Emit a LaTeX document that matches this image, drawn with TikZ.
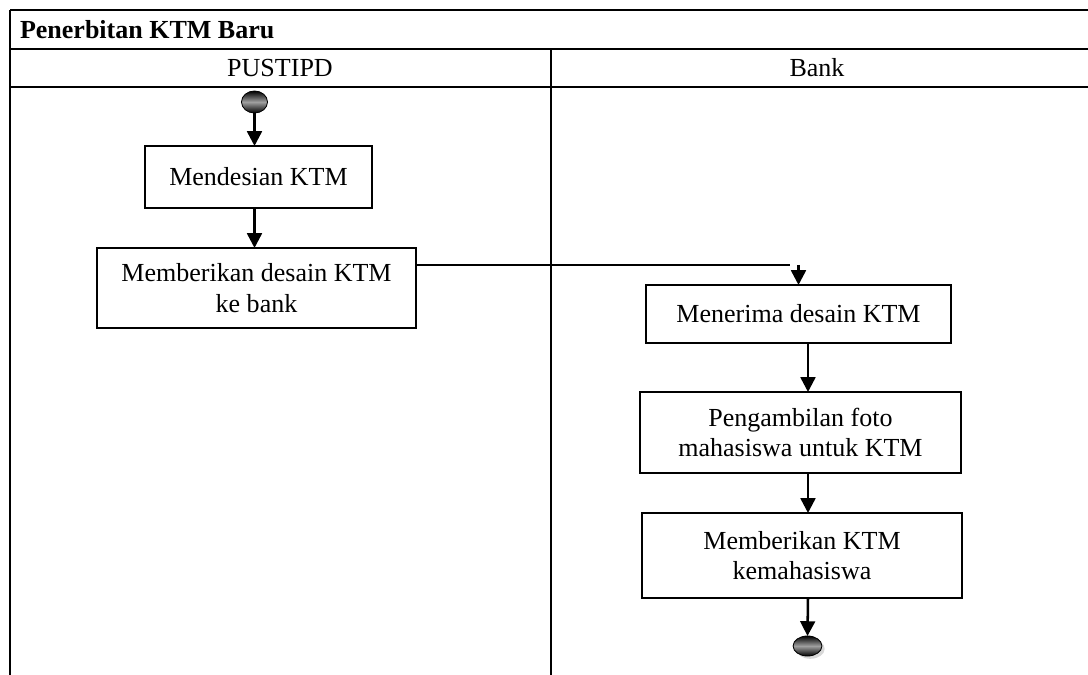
\documentclass[tikz,border=0pt]{standalone}
\usepackage{fontspec}
\setmainfont{Liberation Serif}
\usepackage{tikz}
\usetikzlibrary{arrows.meta,shapes.geometric,shadows}

\begin{document}
\begin{tikzpicture}[x=0.025cm, y=-0.025cm,
    every node/.style={font=\fontsize{18.5}{21.5}\selectfont, inner sep=0pt, outer sep=0pt},
    tabel/.style={line width=2pt},
    kotak/.style={draw, line width=1pt, align=center},
    panah/.style={line width=1.8pt, -{Triangle[length=10.5pt,width=10.5pt]}},
    titik/.style={ellipse, draw, line width=0.6pt, top color=black, bottom color=black, middle color=gray!75}]
  \useasboundingbox (0,0) rectangle (1088,675);
  % Swimlane table
  \draw[tabel] (10,10) -- (1100,10);
  \draw[tabel] (10,49) -- (1100,49);
  \draw[tabel] (10,87) -- (1100,87);
  \draw[tabel] (10,10) -- (10,690);
  \draw[line width=1.5pt] (551,49) -- (551,690);
  \node[anchor=west, font=\fontsize{18.5}{21.5}\selectfont\bfseries] (judul) at (20,30) {Penerbitan KTM Baru};
  \node (pustipd) at (280,68) {PUSTIPD};
  \node (bank) at (817,68) {Bank};
  % PUSTIPD lane
  \node[titik, minimum width=0.65cm, minimum height=0.55cm] (mulai) at (254.5,102) {};
  \node[kotak, minimum width=5.675cm, minimum height=1.55cm] (desain) at (258.5,177) {Mendesian KTM};
  \node[kotak, minimum width=7.975cm, minimum height=2cm] (kirim) at (256.5,288) {Memberikan desain KTM\\ke bank};
  \draw[panah] (mulai.south) -- (mulai.south |- desain.north);
  \draw[panah] (desain.south -| mulai) -- (kirim.north -| mulai);
  % Bank lane
  \coordinate (belok) at (790,265);
  \coordinate (kanan) at (808,0);
  \node[kotak, minimum width=7.625cm, minimum height=1.45cm] (terima) at (798.5,314) {Menerima desain KTM};
  \node[kotak, minimum width=8.025cm, minimum height=2.025cm] (foto) at (800.5,432.5) {Pengambilan foto\\mahasiswa untuk KTM};
  \node[kotak, minimum width=8cm, minimum height=2.125cm] (beri) at (802,555.5) {Memberikan KTM\\kemahasiswa};
  \node[titik, minimum width=0.72cm, minimum height=0.5cm,
    drop shadow={shadow xshift=2pt, shadow yshift=-2pt, fill=gray!60}] (selesai) at (807.5,646) {};
  \draw[line width=1pt] (kirim.east |- belok) -- (belok);
  \draw[panah] (terima.north |- belok) -- (terima.north);
  \draw[panah] (terima.south -| kanan) -- (foto.north -| kanan);
  \draw[panah] (foto.south -| kanan) -- (beri.north -| kanan);
  \draw[panah] (beri.south -| kanan) -- (selesai.north);
\end{tikzpicture}
\end{document}
